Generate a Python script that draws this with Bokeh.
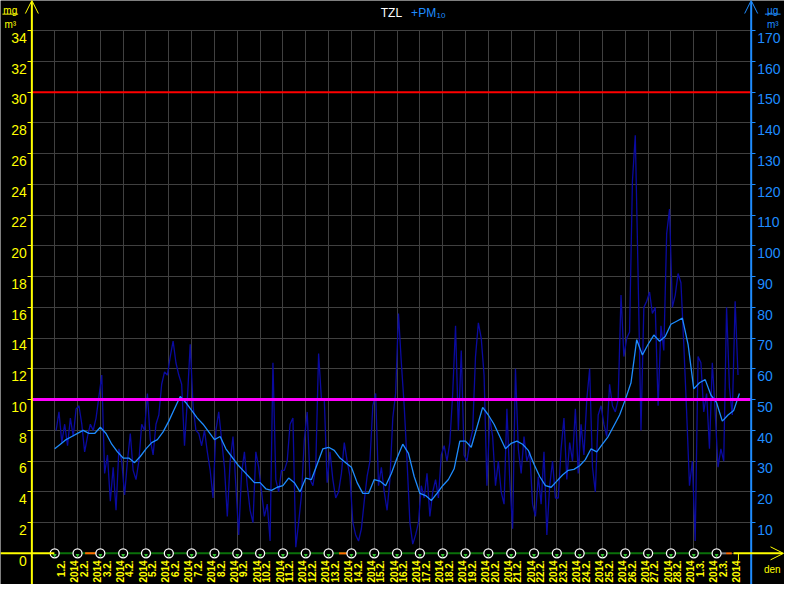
import math
from bokeh.plotting import figure
from bokeh.models import (LinearAxis, Range1d, FixedTicker, Label, Arrow, OpenHead, Grid)
from bokeh.embed import file_html
from bokeh.resources import INLINE

# ---------------- data ----------------
DAY_LABELS = ["1.2.", "2.2.", "3.2.", "4.2.", "5.2.", "6.2.", "7.2.", "8.2.", "9.2.", "10.2.",
              "11.2.", "12.2.", "13.2.", "14.2.", "15.2.", "16.2.", "17.2.", "18.2.", "19.2.", "20.2.",
              "21.2.", "22.2.", "23.2.", "24.2.", "25.2.", "26.2.", "27.2.", "28.2.", "1.3.", "2.3."]
YEAR_LABEL = "2014"
LEFT_TICKS = [0, 2, 4, 6, 8, 10, 12, 14, 16, 18, 20, 22, 24, 26, 28, 30, 32, 34]
RIGHT_TICKS = [10, 20, 30, 40, 50, 60, 70, 80, 90, 100, 110, 120, 130, 140, 150, 160, 170]
UG_PER_LEFT_UNIT = 5
LIMIT_DAILY = 50     # ug/m3
LIMIT_ALERT = 150    # ug/m3

# PM10, 3-hour values (ug/m3), from 1.2.2014 00:00
RAW_PM10 = [
    40, 46, 36, 42, 35, 44, 38, 47,
    48, 42, 33, 38, 42, 40, 44, 51,
    58, 26, 32, 17, 28, 14, 34, 30,
    19, 30, 39, 27, 24, 30, 42, 40,
    52, 37, 32, 42, 45, 55, 59, 58,
    64, 69, 62, 58, 55, 35, 50, 68,
    48, 40, 39, 35, 40, 33, 27, 18,
    40, 46, 37, 28, 12, 30, 38, 22,
    6, 26, 33, 22, 14, 10, 33, 28,
    20, 12, 16, 4, 62, 24, 20, 27,
    27, 30, 42, 44, 2, 10, 19, 37,
    46, 24, 22, 28, 65, 50, 50, 23,
    33, 24, 18, 20, 26, 36, 30, 25,
    10, 6, 4, 8, 17, 25, 30, 48,
    52, 22, 28, 20, 14, 24, 44, 52,
    78, 62, 48, 30, 10, 3, 6, 10,
    22, 18, 26, 12, 20, 24, 18, 32,
    35, 30, 36, 52, 74, 40, 66, 32,
    30, 36, 40, 64, 75, 70, 58, 22,
    44, 38, 22, 30, 20, 16, 47, 24,
    8, 60, 34, 26, 38, 30, 33, 16,
    12, 25, 16, 33, 6, 22, 30, 18,
    18, 34, 44, 24, 36, 30, 47, 26,
    42, 32, 50, 60, 28, 20, 45, 48,
    42, 38, 55, 48, 46, 50, 84, 64,
    70, 72, 121, 136, 90, 40, 80, 82,
    85, 78, 80, 48, 74, 66, 104, 112,
    80, 84, 91, 88, 68, 46, 22, 30,
    4, 64, 62, 46, 52, 34, 62, 46,
    28, 34, 30, 80, 54, 45, 82, 58,
]
RAW_STEP_H = 3

# PM10 running mean, 6-hour values (ug/m3), from 1.2.2014 00:00
SMOOTH_PM10 = [
    34, 35.5, 37, 38,
    39, 40, 39, 39,
    41, 39, 35.5, 33,
    31, 31, 29.5, 31.5,
    34, 36, 37, 39.5,
    43, 47, 51, 49,
    46.5, 44, 42, 39.5,
    37, 38, 34, 31.5,
    29, 27, 25, 23,
    23, 21, 20.5, 21.5,
    22, 24.5, 23, 20,
    24.5, 24, 29, 34,
    34.5, 33.5, 31, 29.5,
    28, 23, 19.5, 19.5,
    24, 23.5, 22, 26,
    31, 35.5, 32.5, 25,
    19.5, 18.8, 17.2, 19.5,
    22, 24, 27.5, 36.5,
    36.5, 34.5, 41, 47.5,
    45, 42, 38, 34,
    35.8, 36.5, 35.5, 33.5,
    29, 25, 22, 21.5,
    23.5, 25.5, 27, 27.3,
    28.5, 30.5, 34, 33,
    35.5, 38, 41.5, 45,
    50, 55.5, 69.5, 64.5,
    68, 71, 69, 70.5,
    74.5, 75.5, 76.5, 68,
    53.5, 55.5, 56.5, 51.5,
    49, 43, 45, 46.5,
    52,
]
SMOOTH_STEP_H = 6

# status bar segments (hours from 1.2.2014 00:00)
STATUS_OK = [(0, 697)]
STATUS_WARN = [(32, 46), (299, 311), (706, 712)]
STATUS_GREY = [(697, 706)]

# ---------------- layout ----------------
W, H = 784, 584
H_PER_REFPX = 24 / 23.29          # hours per reference pixel
REF_X_DAY0 = 55.3                 # reference x of 1.2. 00:00
REF_Y_ZERO = 568.0                # reference y of value 0
REF_PX_PER_UNIT = (568 - 31) / 34.0


def hx(rx):
    return (rx - REF_X_DAY0) * H_PER_REFPX


def vy(ry):
    return (REF_Y_ZERO - ry) / REF_PX_PER_UNIT


X0, X1 = hx(32), hx(766)          # left / right axis positions
XR0, XR1 = hx(0), hx(800)
YR0, YR1 = vy(600), vy(0)

YEL = "#ffff00"
BLUE = "#1e8cff"
NAVY = "#0a0aa0"
GRIDC = "#404040"
FONT = "Liberation Sans"
LABEL_SHIFT_PX = 7.3

p = figure(width=W, height=H, x_range=Range1d(XR0, XR1), y_range=Range1d(YR0, YR1),
           output_backend="svg", toolbar_location=None,
           min_border_left=0, min_border_right=0, min_border_top=0, min_border_bottom=0,
           background_fill_color="black", border_fill_color="black", outline_line_color=None)
p.extra_y_ranges = {"ug": Range1d(YR0 * UG_PER_LEFT_UNIT, YR1 * UG_PER_LEFT_UNIT)}
units_per_px = (YR1 - YR0) / H
shift = LABEL_SHIFT_PX * units_per_px

# x axis (day labels at mid-day)
label_pos = [24 * i + 14 for i in range(len(DAY_LABELS))]
xa = p.xaxis[0]
xa.fixed_location = 0
xa.ticker = FixedTicker(ticks=label_pos)
xa.major_label_overrides = {pos: f"{lab}\n{YEAR_LABEL}" for pos, lab in zip(label_pos, DAY_LABELS)}
xa.major_label_orientation = math.pi / 2
xa.axis_line_color = None
xa.major_tick_line_color = None
xa.minor_tick_line_color = None
xa.major_tick_out = 0
xa.major_tick_in = 0
xa.major_label_standoff = 7
xa.major_label_text_color = YEL
xa.major_label_text_font = FONT
xa.major_label_text_font_size = "10px"
xa.major_label_text_font_style = "bold"


def style_ticks_only(ax, color):
    ax.axis_line_color = None
    ax.major_tick_line_color = color
    ax.major_tick_out = 4
    ax.major_tick_in = 0
    ax.minor_tick_line_color = None
    ax.major_label_text_font_size = "0px"
    ax.major_label_text_color = None


def style_labels_only(ax, color, standoff):
    ax.axis_line_color = None
    ax.major_tick_line_color = None
    ax.major_tick_out = 0
    ax.major_tick_in = 0
    ax.minor_tick_line_color = None
    ax.major_label_standoff = standoff
    ax.major_label_text_color = color
    ax.major_label_text_font = FONT
    ax.major_label_text_font_size = "14px"


# left axis: tick marks
ya = p.yaxis[0]
ya.fixed_location = X0
ya.ticker = FixedTicker(ticks=LEFT_TICKS)
style_ticks_only(ya, YEL)
# left axis: labels (drawn just under their tick, as in the original)
left_lab_pos = [t - shift for t in LEFT_TICKS]
yl = LinearAxis(fixed_location=X0, ticker=FixedTicker(ticks=left_lab_pos))
yl.major_label_overrides = {pos: str(t) for pos, t in zip(left_lab_pos, LEFT_TICKS)}
style_labels_only(yl, YEL, 5)
p.add_layout(yl, "left")

# right axis
ra = LinearAxis(y_range_name="ug", fixed_location=X1, ticker=FixedTicker(ticks=RIGHT_TICKS))
style_ticks_only(ra, BLUE)
p.add_layout(ra, "right")
right_lab_pos = [t - shift * UG_PER_LEFT_UNIT for t in RIGHT_TICKS]
rl = LinearAxis(y_range_name="ug", fixed_location=X1, ticker=FixedTicker(ticks=right_lab_pos))
rl.major_label_overrides = {pos: str(t) for pos, t in zip(right_lab_pos, RIGHT_TICKS)}
style_labels_only(rl, BLUE, 6)
p.add_layout(rl, "right")

# grids
day_x = [24 * i for i in range(len(DAY_LABELS))]
p.xgrid.ticker = FixedTicker(ticks=day_x)
p.xgrid.grid_line_color = GRIDC
p.ygrid.ticker = FixedTicker(ticks=LEFT_TICKS)
p.ygrid.grid_line_color = GRIDC
if "cross_bounds" in Grid.properties():
    p.xgrid.cross_bounds = (0, LEFT_TICKS[-1])
    p.ygrid.cross_bounds = (X0, X1)
else:
    p.xgrid.visible = False
    p.ygrid.visible = False
    p.segment(x0=day_x, y0=0, x1=day_x, y1=LEFT_TICKS[-1], line_color=GRIDC, line_width=1)
    p.segment(x0=X0, y0=LEFT_TICKS, x1=X1, y1=LEFT_TICKS, line_color=GRIDC, line_width=1)

# data
raw_x = [RAW_STEP_H * i + RAW_STEP_H / 2 for i in range(len(RAW_PM10))]
smooth_x = [SMOOTH_STEP_H * i for i in range(len(SMOOTH_PM10))]
p.line(raw_x, RAW_PM10, y_range_name="ug", line_color=NAVY, line_width=1.3)
p.line(smooth_x, SMOOTH_PM10, y_range_name="ug", line_color=BLUE, line_width=1.3)

# limits
p.segment(x0=X0, y0=LIMIT_ALERT, x1=X1, y1=LIMIT_ALERT, y_range_name="ug",
          line_color="#ff0000", line_width=2)
p.segment(x0=X0, y0=LIMIT_DAILY, x1=X1, y1=LIMIT_DAILY, y_range_name="ug",
          line_color="#ff00ff", line_width=3)

# axes lines with arrows
p.add_layout(Arrow(x_start=X0, y_start=YR0, x_end=X0, y_end=YR1, line_color=YEL, line_width=2,
                   end=OpenHead(size=13, line_color=YEL, line_width=1)))
p.add_layout(Arrow(x_start=X1, y_start=YR0, x_end=X1, y_end=YR1, line_color=BLUE, line_width=2,
                   end=OpenHead(size=13, line_color=BLUE, line_width=1)))
p.add_layout(Arrow(x_start=XR0, y_start=0, x_end=hx(55), y_end=0, line_color=YEL, line_width=2, end=None))
p.add_layout(Arrow(x_start=hx(748), y_start=0, x_end=hx(799), y_end=0, line_color=YEL, line_width=2,
                   end=OpenHead(size=13, line_color=YEL, line_width=1)))
p.add_layout(Arrow(x_start=hx(753), y_start=0, x_end=hx(753), y_end=vy(575), line_color=YEL,
                   line_width=1, end=None))

# status bar
p.segment(x0=[a for a, b in STATUS_OK], y0=0, x1=[b for a, b in STATUS_OK], y1=0,
          line_color="#0a700a", line_width=2)
p.segment(x0=[a for a, b in STATUS_GREY], y0=0, x1=[b for a, b in STATUS_GREY], y1=0,
          line_color="#808080", line_width=2)
p.segment(x0=[a for a, b in STATUS_WARN], y0=0, x1=[b for a, b in STATUS_WARN], y1=0,
          line_color="#ff6a00", line_width=2)
p.scatter(day_x, [0] * len(day_x), marker="circle", size=9, line_color="white",
          fill_color="black", line_width=1.3)
p.scatter(day_x, [-0.12] * len(day_x), marker="inverted_triangle", size=4,
          line_color=None, fill_color="#30c030")

# title
p.add_layout(Label(x=hx(388), y=vy(12.5), text="TZL", text_color="white", text_font=FONT,
                   text_font_size="12px", text_baseline="alphabetic", text_align="left"))
p.add_layout(Label(x=hx(419), y=vy(12.5), text="+PM", text_color=BLUE, text_font=FONT,
                   text_font_size="12px", text_baseline="alphabetic", text_align="left"))
p.add_layout(Label(x=hx(445), y=vy(15), text="10", text_color=BLUE, text_font=FONT,
                   text_font_size="8px", text_baseline="alphabetic", text_align="left"))

# units
p.add_layout(Label(x=hx(10), y=vy(10), text="mg", text_color=YEL, text_font=FONT,
                   text_font_size="10px", text_baseline="alphabetic", text_align="center"))
p.add_layout(Arrow(x_start=hx(2), y_start=vy(14), x_end=hx(18), y_end=vy(14),
                   line_color=YEL, line_width=1, end=None))
p.add_layout(Label(x=hx(10), y=vy(25), text="m³", text_color=YEL, text_font=FONT,
                   text_font_size="10px", text_baseline="alphabetic", text_align="center"))
p.add_layout(Label(x=hx(788), y=vy(10), text="µg", text_color=BLUE, text_font=FONT,
                   text_font_size="10px", text_baseline="alphabetic", text_align="center"))
p.add_layout(Arrow(x_start=hx(780), y_start=vy(14), x_end=hx(796), y_end=vy(14),
                   line_color=BLUE, line_width=1, end=None))
p.add_layout(Label(x=hx(788), y=vy(25), text="m³", text_color=BLUE, text_font=FONT,
                   text_font_size="10px", text_baseline="alphabetic", text_align="center"))
p.add_layout(Label(x=hx(779), y=vy(585), text="den", text_color=YEL, text_font=FONT,
                   text_font_size="10px", text_baseline="alphabetic", text_align="left"))

open("out.html", "w").write(file_html(p, INLINE))
